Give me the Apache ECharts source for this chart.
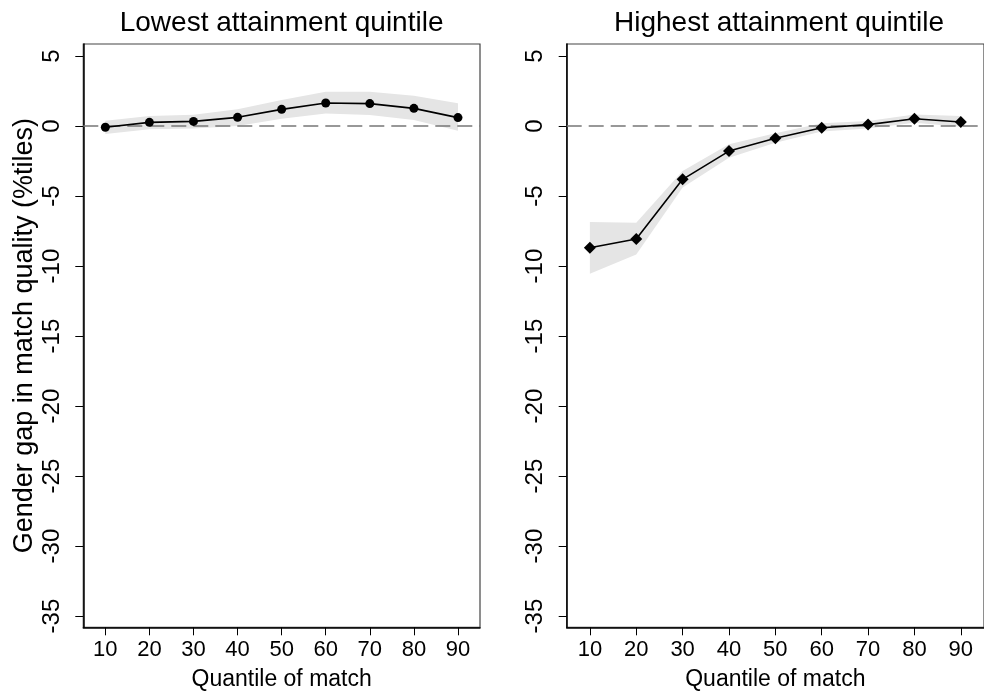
<!DOCTYPE html>
<html>
<head>
<meta charset="utf-8">
<script src="https://cdn.jsdelivr.net/npm/echarts@6/dist/echarts.min.js"></script>
<style>
html,body{margin:0;padding:0;background:#fff;}
#chart{width:984px;height:697px;}
</style>
</head>
<body>
<div id="chart"></div>
<script>
// Quantiles of match (x categories)
const quantiles = [10, 20, 30, 40, 50, 60, 70, 80, 90];
const xTicks = [10, 20, 30, 40, 50, 60, 70, 80, 90];
const yTicks = [5, 0, -5, -10, -15, -20, -25, -30, -35];

// Lowest attainment quintile
const lowEst   = [-0.09, 0.26, 0.33, 0.62, 1.19, 1.64, 1.60, 1.26, 0.60];
const lowUpper = [0.38, 0.71, 0.81, 1.19, 1.86, 2.45, 2.45, 2.17, 1.62];
const lowLower = [-0.57, -0.24, -0.17, 0.00, 0.52, 0.90, 0.79, 0.43, -0.33];

// Highest attainment quintile
const highEst   = [-8.69, -8.07, -3.81, -1.79, -0.88, -0.12, 0.10, 0.52, 0.29];
const highUpper = [-6.86, -6.90, -3.21, -1.31, -0.52, 0.19, 0.36, 0.83, 0.71];
const highLower = [-10.55, -9.17, -4.40, -2.26, -1.19, -0.40, -0.17, 0.24, -0.05];

const titles = ['Lowest attainment quintile', 'Highest attainment quintile'];
const xName = 'Quantile of match';
const yName = 'Gender gap in match quality (%tiles)';

const FONT = '"Liberation Sans", Arial, Helvetica, sans-serif';

function bandRender(lo, hi) {
  return function (params, api) {
    if (params.dataIndex !== 0) return null;
    const pts = [];
    for (let i = 0; i < quantiles.length; i++) pts.push(api.coord([quantiles[i], hi[i]]));
    for (let i = quantiles.length - 1; i >= 0; i--) pts.push(api.coord([quantiles[i], lo[i]]));
    return { type: 'polygon', shape: { points: pts }, style: { fill: '#e5e5e5', stroke: null } };
  };
}

const grids = [
  { left: 83.3, top: 44, width: 396.7, height: 583.3 },
  { left: 566.7, top: 44, width: 423, height: 583.3 }
];

function xAxisFor(i) {
  return {
    type: 'value', gridIndex: i, min: 5, max: 95,
    name: xName, nameLocation: 'middle', nameGap: 41,
    nameTextStyle: { fontFamily: FONT, fontSize: 23, color: '#000' },
    axisLine: { show: true, onZero: false, lineStyle: { color: '#000', width: 1.5 } },
    axisTick: { show: true, length: 8, customValues: xTicks, lineStyle: { color: '#000', width: 1 } },
    axisLabel: { customValues: xTicks, margin: 12, fontFamily: FONT, fontSize: 22, color: '#000' },
    splitLine: { show: false }
  };
}
function yAxisFor(i) {
  const ax = {
    type: 'value', gridIndex: i, min: -35.8, max: 5.857,
    axisLine: { show: true, onZero: false, lineStyle: { color: '#000', width: 1.5 } },
    axisTick: { show: true, length: 8, customValues: yTicks, lineStyle: { color: '#000', width: 1 } },
    axisLabel: { customValues: yTicks, rotate: 90, margin: 19, fontFamily: FONT, fontSize: 24, color: '#000' },
    splitLine: { show: false }
  };
  if (i === 0) {
    ax.name = yName;
    ax.nameLocation = 'middle';
    ax.nameGap = 45;
    ax.nameTextStyle = { fontFamily: FONT, fontSize: 27, color: '#000' };
  }
  return ax;
}

function panelSeries(i, est, lo, hi, symbol, size) {
  return [
    {
      type: 'custom', xAxisIndex: i, yAxisIndex: i, z: 1,
      renderItem: bandRender(lo, hi),
      data: quantiles.map((q, k) => [q, lo[k], hi[k]]),
      encode: { x: 0, y: [1, 2] },
      silent: true,
      markLine: {
        silent: true, symbol: 'none', z: 2,
        label: { show: false },
        lineStyle: { color: '#777', type: [15, 7], width: 1.5 },
        data: [{ yAxis: 0 }]
      }
    },
    {
      type: 'line', xAxisIndex: i, yAxisIndex: i, z: 3,
      data: quantiles.map((q, k) => [q, est[k]]),
      symbol: symbol, symbolSize: size,
      itemStyle: { color: '#000' },
      lineStyle: { color: '#000', width: 1.6 },
      silent: true, animation: false
    }
  ];
}

const chart = echarts.init(document.getElementById('chart'), null, { renderer: 'canvas' });
chart.setOption({
  animation: false,
  backgroundColor: '#fff',
  title: [
    { text: titles[0], left: 276.6, top: 4, textAlign: 'center', textStyle: { fontFamily: FONT, fontSize: 28, fontWeight: 'normal', color: '#000' } },
    { text: titles[1], left: 774, top: 4, textAlign: 'center', textStyle: { fontFamily: FONT, fontSize: 28, fontWeight: 'normal', color: '#000' } }
  ],
  grid: grids.map(g => Object.assign({ show: true, borderColor: '#444', borderWidth: 1.2, backgroundColor: 'transparent' }, g)),
  xAxis: [xAxisFor(0), xAxisFor(1)],
  yAxis: [yAxisFor(0), yAxisFor(1)],
  series: [].concat(
    panelSeries(0, lowEst, lowLower, lowUpper, 'circle', 9),
    panelSeries(1, highEst, highLower, highUpper, 'diamond', 12)
  )
});
</script>
</body>
</html>
